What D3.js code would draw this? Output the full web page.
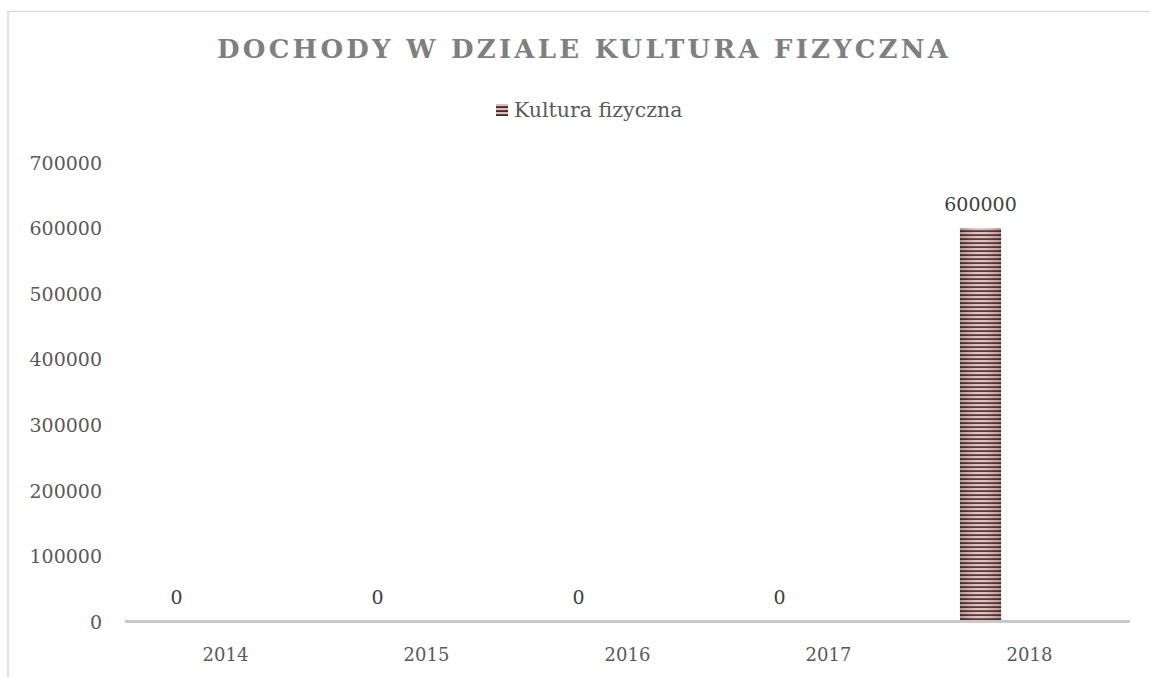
<!DOCTYPE html>
<html>
<head>
<meta charset="utf-8">
<script src="https://cdn.jsdelivr.net/npm/d3@7"></script>
<style>
  html, body { margin: 0; padding: 0; background: #ffffff; }
  svg { display: block; font-family: "DejaVu Serif", "Liberation Serif", serif; }
</style>
</head>
<body>
<svg id="chart" width="1150" height="677"></svg>
<script>
// Dochody w dziale kultura fizyczna, 2014–2018
const years = ["2014", "2015", "2016", "2017", "2018"];
const values = [0, 0, 0, 0, 600000];
const seriesName = "Kultura fizyczna";
const yTicks = [0, 100000, 200000, 300000, 400000, 500000, 600000, 700000];
const titleText = "DOCHODY W DZIALE KULTURA FIZYCZNA";

const svg = d3.select("#chart");
const W = 1150, H = 677;
const plot = { left: 125, right: 1130, top: 162.5, bottom: 621.5 };

// outer chart frame
svg.append("rect")
  .attr("x", 8).attr("y", 11.5)
  .attr("width", W + 20).attr("height", H + 20)
  .attr("fill", "#ffffff").attr("stroke", "#d9d9d9").attr("stroke-width", 1.5);

// striped fill used by the bars and legend key
const defs = svg.append("defs");
const pat = defs.append("pattern")
  .attr("id", "stripes").attr("patternUnits", "userSpaceOnUse")
  .attr("width", 8).attr("height", 4);
pat.append("rect").attr("width", 8).attr("height", 4).attr("fill", "#e0bdb8");
pat.append("rect").attr("y", 2.2).attr("width", 8).attr("height", 1.8).attr("fill", "#452626");

const shade = defs.append("linearGradient").attr("id", "shade")
  .attr("x1", 0).attr("x2", 1).attr("y1", 0).attr("y2", 0);
shade.append("stop").attr("offset", "0").attr("stop-color", "#3a1f1f").attr("stop-opacity", 0.28);
shade.append("stop").attr("offset", "0.5").attr("stop-color", "#ffffff").attr("stop-opacity", 0.1);
shade.append("stop").attr("offset", "1").attr("stop-color", "#3a1f1f").attr("stop-opacity", 0.28);

// scales
const x0 = d3.scaleBand().domain(years)
  .range([plot.left, plot.right]).paddingInner(0.308).paddingOuter(0.154);
const x1 = d3.scaleBand().domain(d3.range(2))
  .range([0, x0.bandwidth()]).paddingInner(0.58);
const y = d3.scaleLinear().domain([0, 700000]).range([plot.bottom, plot.top]);

// title
svg.append("text")
  .attr("x", 582.5).attr("y", 58)
  .attr("text-anchor", "middle")
  .attr("font-size", 26).attr("font-weight", "bold")
  .attr("fill", "#7f7f7f")
  .attr("textLength", 731).attr("lengthAdjust", "spacing")
  .text(titleText);

// legend
const lg = svg.append("g").attr("transform", "translate(496,104)");
lg.append("rect").attr("width", 12).attr("height", 12).attr("fill", "url(#stripes)");
lg.append("text").attr("x", 18).attr("y", 13)
  .attr("font-size", 20.5).attr("fill", "#595959")
  .text(seriesName);

// value axis labels (no gridlines)
const yAxis = d3.axisLeft(y).tickValues(yTicks).tickSize(0).tickPadding(0)
  .tickFormat(d3.format("d"));
const ya = svg.append("g").attr("transform", "translate(102,0)").call(yAxis);
ya.select(".domain").remove();
ya.selectAll("text")
  .attr("font-family", "DejaVu Serif, Liberation Serif, serif")
  .attr("font-size", 19).attr("fill", "#595959").attr("dy", "0.35em");

// category axis
const xAxis = d3.axisBottom(x0).tickSize(0).tickPadding(0);
const xa = svg.append("g").attr("transform", `translate(0,${plot.bottom})`).call(xAxis);
xa.select(".domain").remove();
xa.selectAll("text")
  .attr("font-family", "DejaVu Serif, Liberation Serif, serif")
  .attr("font-size", 18).attr("fill", "#595959").attr("y", 39).attr("dy", 0);

// bars
const bars = svg.append("g");
years.forEach((yr, i) => {
  const bx = x0(yr) + x1(0), bw = x1.bandwidth();
  const h = y(0) - y(values[i]);
  if (h > 0) {
    bars.append("rect").attr("x", bx).attr("y", y(values[i]))
      .attr("width", bw).attr("height", h).attr("fill", "url(#stripes)");
    bars.append("rect").attr("x", bx).attr("y", y(values[i]))
      .attr("width", bw).attr("height", h).attr("fill", "url(#shade)");
  }
  bars.append("text")
    .attr("x", bx + bw / 2).attr("y", y(values[i]) - 24)
    .attr("dy", "0.35em").attr("text-anchor", "middle")
    .attr("font-size", 19).attr("fill", "#404040")
    .text(d3.format("d")(values[i]));
});

// baseline
svg.append("line")
  .attr("x1", plot.left).attr("x2", plot.right)
  .attr("y1", y(0)).attr("y2", y(0))
  .attr("stroke", "#c9c9c9").attr("stroke-width", 3);
</script>
</body>
</html>
